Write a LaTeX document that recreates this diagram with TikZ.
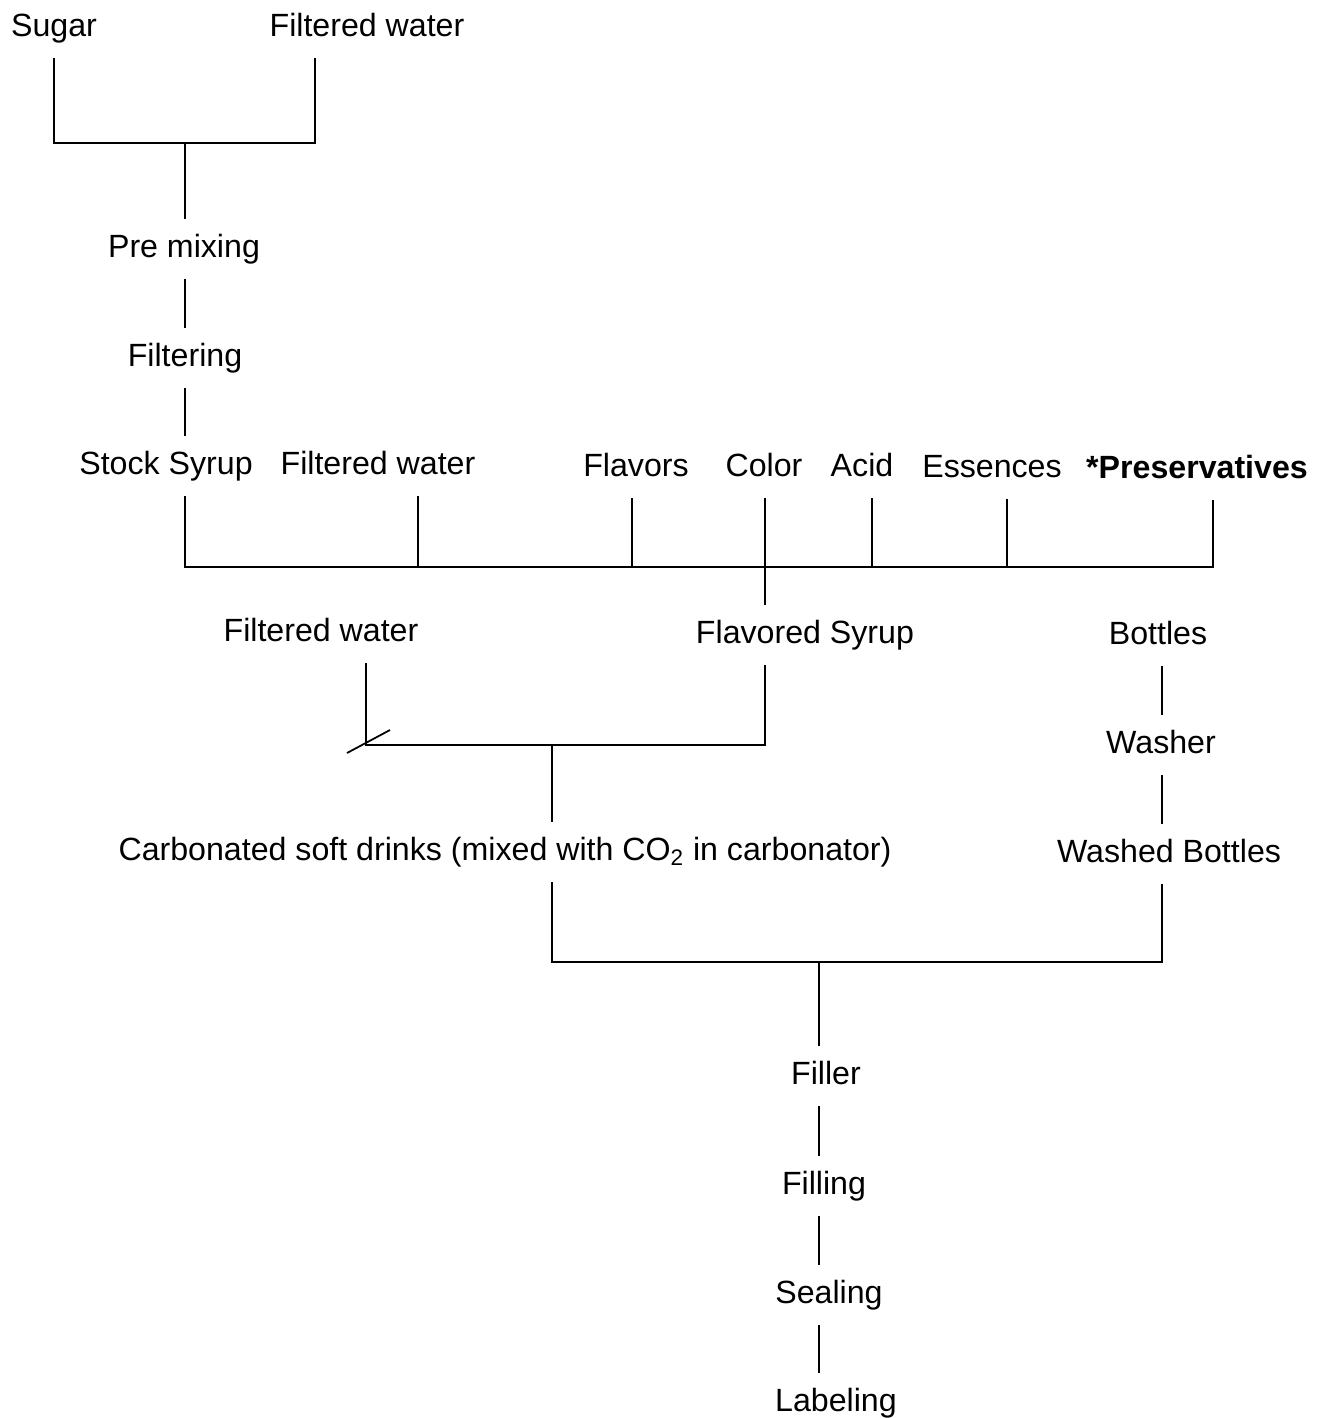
\documentclass[tikz,border=0pt]{standalone}
\usepackage{fontspec}
\setmainfont{Liberation Sans}
\usetikzlibrary{positioning}
\tikzstyle{stage} = [font=\fontsize{18.3}{20}\selectfont, inner xsep=0pt,
    inner ysep=0.32cm, text height=0.44cm, text depth=0.12cm, yshift=-0.06cm]
\tikzstyle{boldstage} = [stage, font=\fontsize{18.3}{20}\selectfont\bfseries]
\tikzstyle{link} = [draw, line width=1.5pt]

\begin{document}
\begin{tikzpicture}[x=0.02cm, y=-0.02cm]
\useasboundingbox (0,0) rectangle (1320,1418);
% Place nodes
\node [stage] (sugar) at (54,25) {Sugar};
\node [stage] (water1) at (367,25) {Filtered water};
\node [stage] (premix) at (184,246) {Pre mixing};
\node [stage] (filter) at (185,355) {Filtering};

\node [stage] (stock) at (166,463) {Stock Syrup};
\node [stage] (water2) at (378,463) {Filtered water};
\node [stage] (flavors) at (636,465) {Flavors};
\node [stage] (color) at (764,465) {Color};
\node [stage] (acid) at (862,465) {Acid};
\node [stage] (essence) at (992,466) {Essences};
\node [boldstage] (preserv) at (1197,467) {*Preservatives};

\node [stage] (water3) at (321,630) {Filtered water};
\node [stage] (flsyrup) at (805,632) {Flavored Syrup};
\node [stage] (bottles) at (1158,633) {Bottles};
\node [stage] (washer) at (1161,742) {Washer};
\node [stage] (carbon) at (505,849) {Carbonated soft drinks (mixed with CO\textsubscript{2} in carbonator)};
\node [stage] (washed) at (1169,851) {Washed Bottles};

\node [stage] (filler) at (826,1073) {Filler};
\node [stage] (filling) at (824,1183) {Filling};
\node [stage] (sealing) at (829,1292) {Sealing};
\node [stage] (labeling) at (836,1400) {Labeling};

% Junction points
\coordinate (bar1l) at (54,143);
\coordinate (bar1r) at (315,143);
\coordinate (bar1m) at (185,143);
\coordinate (bar2l) at (185,567);
\coordinate (bar2r) at (1213,567);
\coordinate (bar2c) at (765,567);
\coordinate (bar3l) at (366,745);
\coordinate (bar3r) at (765,745);
\coordinate (bar3m) at (552,745);
\coordinate (bar4l) at (552,962);
\coordinate (bar4r) at (1162,962);
\coordinate (bar4m) at (819,962);

% Draw edges
\path [link] (sugar.south) -- (bar1l) -- (bar1r) -- (bar1r |- water1.south);
\path [link] (bar1m) -- (bar1m |- premix.north);
\path [link] (bar1m |- premix.south) -- (bar1m |- filter.north);
\path [link] (bar1m |- filter.south) -- (bar1m |- stock.north);

\path [link] (bar1m |- stock.south) -- (bar2l) -- (bar2r) -- (bar2r |- preserv.south);
\foreach \n/\x in {water2/418, flavors/632, acid/872, essence/1007}
  \path [link] (\x,567) -- (\x,0 |- \n.south);
\path [link] (bar2c |- color.south) -- (bar2c |- flsyrup.north);

\path [link] (bar3l |- water3.south) -- (bar3l) -- (bar3r) -- (bar3r |- flsyrup.south);
\draw [line width=1pt] (bar3l) ++(-19,8) -- ++(43,-23);
\path [link] (bar3m) -- (bar3m |- carbon.north);

\path [link] (bar4r |- bottles.south) -- (bar4r |- washer.north);
\path [link] (bar4r |- washer.south) -- (bar4r |- washed.north);

\path [link] (bar4l |- carbon.south) -- (bar4l) -- (bar4r) -- (bar4r |- washed.south);
\path [link] (bar4m) -- (bar4m |- filler.north);
\path [link] (bar4m |- filler.south) -- (bar4m |- filling.north);
\path [link] (bar4m |- filling.south) -- (bar4m |- sealing.north);
\path [link] (bar4m |- sealing.south) -- (bar4m |- labeling.north);

\end{tikzpicture}
\end{document}
